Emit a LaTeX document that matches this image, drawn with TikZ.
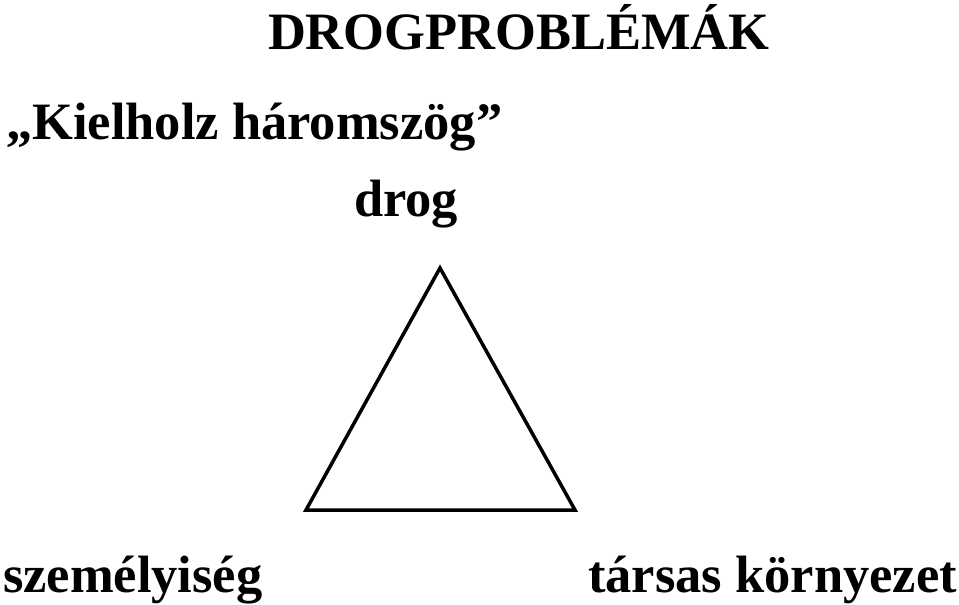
\documentclass[tikz,border=0pt]{standalone}
\usepackage{fontspec}
\setmainfont{Liberation Serif}
\begin{document}
\begin{tikzpicture}[x=1bp,y=-1bp,
  lbl/.style={inner sep=0pt,outer sep=0pt,anchor=base west,font=\fontsize{52.5bp}{60bp}\selectfont\bfseries},
  tri/.style={line width=3.5bp,line join=miter}]
\useasboundingbox (0,0) rectangle (959,605);
\node[lbl] (title) at (268,50) {DROGPROBLÉMÁK};
\node[lbl] (kiel) at (6,140) {„Kielholz háromszög”};
\node[lbl] (drog) at (354,217) {drog};
\node[lbl] (szem) at (3,592) {személyiség};
\node[lbl] (tars) at (588,592) {társas környezet};
\coordinate (A) at (440,268);
\coordinate (B) at (306,510);
\coordinate (C) at (575,510);
\draw[tri] (A) -- (B) -- (C) -- cycle;
\end{tikzpicture}
\end{document}
